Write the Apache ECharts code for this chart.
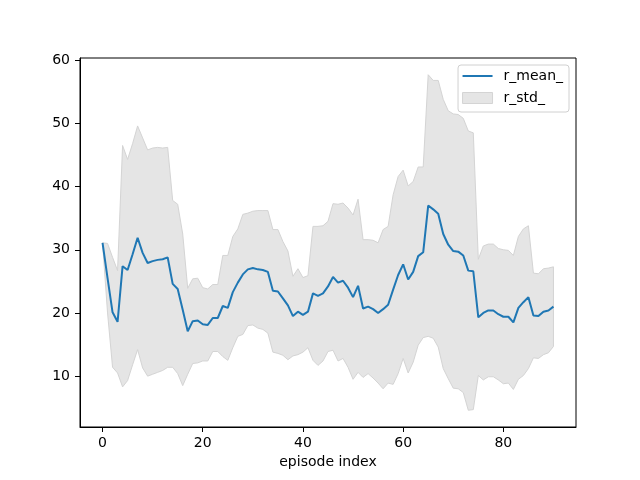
<!DOCTYPE html>
<html>
<head>
<meta charset="utf-8">
<script src="https://cdn.jsdelivr.net/npm/echarts@6/dist/echarts.min.js"></script>
<style>
    html, body { margin: 0; padding: 0; background: #fff; }
    #chart { width: 640px; height: 480px; }
</style>
</head>
<body>
<div id="chart"></div>
<script>
// values, episode index 0..90
const rMean = [
    31.1, 25.5, 20.1, 18.6, 27.4, 26.8, 29.3, 31.9, 29.5, 27.9,
    28.2, 28.4, 28.5, 28.8, 24.6, 23.8, 20.5, 17.1, 18.7, 18.8,
    18.2, 18.1, 19.2, 19.2, 21.1, 20.8, 23.3, 24.8, 26.1, 26.9,
    27.1, 26.9, 26.8, 26.5, 23.5, 23.4, 22.3, 21.2, 19.5, 20.2,
    19.7, 20.2, 23.1, 22.7, 23.1, 24.2, 25.7, 24.8, 25.1, 24.0,
    22.5, 24.3, 20.7, 21.0, 20.6, 20.0, 20.6, 21.3, 23.7, 26.0,
    27.7, 25.3, 26.5, 29.0, 29.6, 37.0, 36.4, 35.7, 32.5, 30.8,
    29.8, 29.7, 29.1, 26.7, 26.6, 19.3, 20.0, 20.4, 20.4, 19.8,
    19.4, 19.4, 18.5, 20.8, 21.7, 22.5, 19.6, 19.5, 20.2, 20.4,
    21.0
];

const rStd = [
    0, 5.5, 8.7, 8.1, 19.1, 17.5, 17.5, 17.7, 18.2, 17.9,
    17.9, 17.8, 17.6, 17.4, 13.2, 13.4, 12.0, 6.8, 6.7, 6.7,
    5.8, 5.7, 5.3, 5.3, 8.0, 8.3, 8.8, 8.5, 9.5, 8.9,
    9.0, 9.3, 9.4, 9.7, 9.7, 9.8, 9.0, 8.6, 6.3, 6.8,
    5.9, 5.7, 10.6, 11.0, 10.7, 10.3, 11.6, 12.4, 12.3, 12.6,
    13.0, 13.7, 10.9, 10.6, 10.9, 11.1, 12.6, 12.4, 15.0, 15.6,
    14.9, 14.8, 14.3, 14.1, 13.5, 20.7, 20.4, 21.1, 21.3, 21.2,
    21.7, 21.7, 21.7, 22.1, 21.9, 9.2, 10.6, 10.5, 10.5, 10.4,
    10.6, 10.5, 10.6, 11.3, 11.6, 11.3, 6.7, 6.7, 6.8, 6.7,
    6.3
];

const xTicks = [0, 20, 40, 60, 80];
const yTicks = [10, 20, 30, 40, 50, 60];

const font = 'DejaVu Sans';
const bandFill = '#e5e5e5';
const bandEdge = '#d4d4d4';

const meanData = rMean.map((v, i) => [i, v]);
// [episode, mean - std, mean + std]
const bandData = rMean.map((v, i) => [i, v - rStd[i], v + rStd[i]]);

// draws the whole std band as one polygon, once
function renderBand(params, api) {
    if (params.dataIndex !== 0) return;
    const upper = bandData.map(d => api.coord([d[0], d[2]]));
    const lower = bandData.map(d => api.coord([d[0], d[1]])).reverse();
    return {
        type: 'polygon',
        shape: { points: upper.concat(lower) },
        style: { fill: bandFill, stroke: bandEdge, lineWidth: 1 },
        silent: true
    };
}

const chart = echarts.init(document.getElementById('chart'), null, { renderer: 'canvas' });

const axisCommon = {
    splitLine: { show: false },
    axisLine: { show: true, onZero: false, lineStyle: { color: '#000', width: 1 } },
};

const option = {
    animation: false,
    backgroundColor: '#fff',
    textStyle: { fontFamily: font },
    grid: {
        left: 80,
        right: 64,
        top: 58,
        bottom: 53,
        show: true,
        borderColor: '#000',
        borderWidth: 1,
        backgroundColor: 'transparent'
    },
    legend: {
        orient: 'vertical',
        right: 71,
        top: 65,
        padding: [3, 6, 6, 4],
        itemGap: 6,
        itemWidth: 30,
        itemHeight: 11,
        borderColor: '#d0d0d0',
        borderWidth: 1,
        borderRadius: 3,
        backgroundColor: 'rgba(255,255,255,0.8)',
        selectedMode: false,
        textStyle: {
            fontFamily: font,
            fontSize: 14,
            color: '#000',
            lineHeight: 16,
            padding: [0, 0, 0, 6]
        },
        data: [
            {
                name: 'r_mean_',
                icon: 'path://M0,0H30V2H0Z',
                itemStyle: { color: '#1f77b4' }
            },
            {
                name: 'r_std_',
                icon: 'rect',
                itemStyle: { color: bandFill, borderColor: bandEdge, borderWidth: 1 }
            }
        ]
    },
    xAxis: {
        ...axisCommon,
        type: 'value',
        min: -4.5,
        max: 94.5,
        name: 'episode index',
        nameLocation: 'middle',
        nameGap: 28,
        nameTextStyle: { fontFamily: font, fontSize: 14, color: '#000' },
        axisTick: {
            show: true,
            length: 5,
            customValues: xTicks,
            lineStyle: { color: '#000' }
        },
        axisLabel: {
            customValues: xTicks,
            margin: 9,
            fontFamily: font,
            fontSize: 14,
            color: '#000'
        }
    },
    yAxis: {
        ...axisCommon,
        type: 'value',
        min: 1.95,
        max: 60.35,
        axisTick: {
            show: true,
            length: 5,
            customValues: yTicks,
            lineStyle: { color: '#000' }
        },
        axisLabel: {
            customValues: yTicks,
            margin: 10,
            fontFamily: font,
            fontSize: 14,
            color: '#000'
        }
    },
    series: [
        {
            name: 'r_std_',
            type: 'custom',
            renderItem: renderBand,
            data: bandData,
            encode: { x: 0, y: [1, 2] },
            clip: true,
            z: 1
        },
        {
            name: 'r_mean_',
            type: 'line',
            data: meanData,
            symbol: 'none',
            lineStyle: { color: '#1f77b4', width: 2 },
            z: 3
        }
    ]
};

chart.setOption(option);
</script>
</body>
</html>
